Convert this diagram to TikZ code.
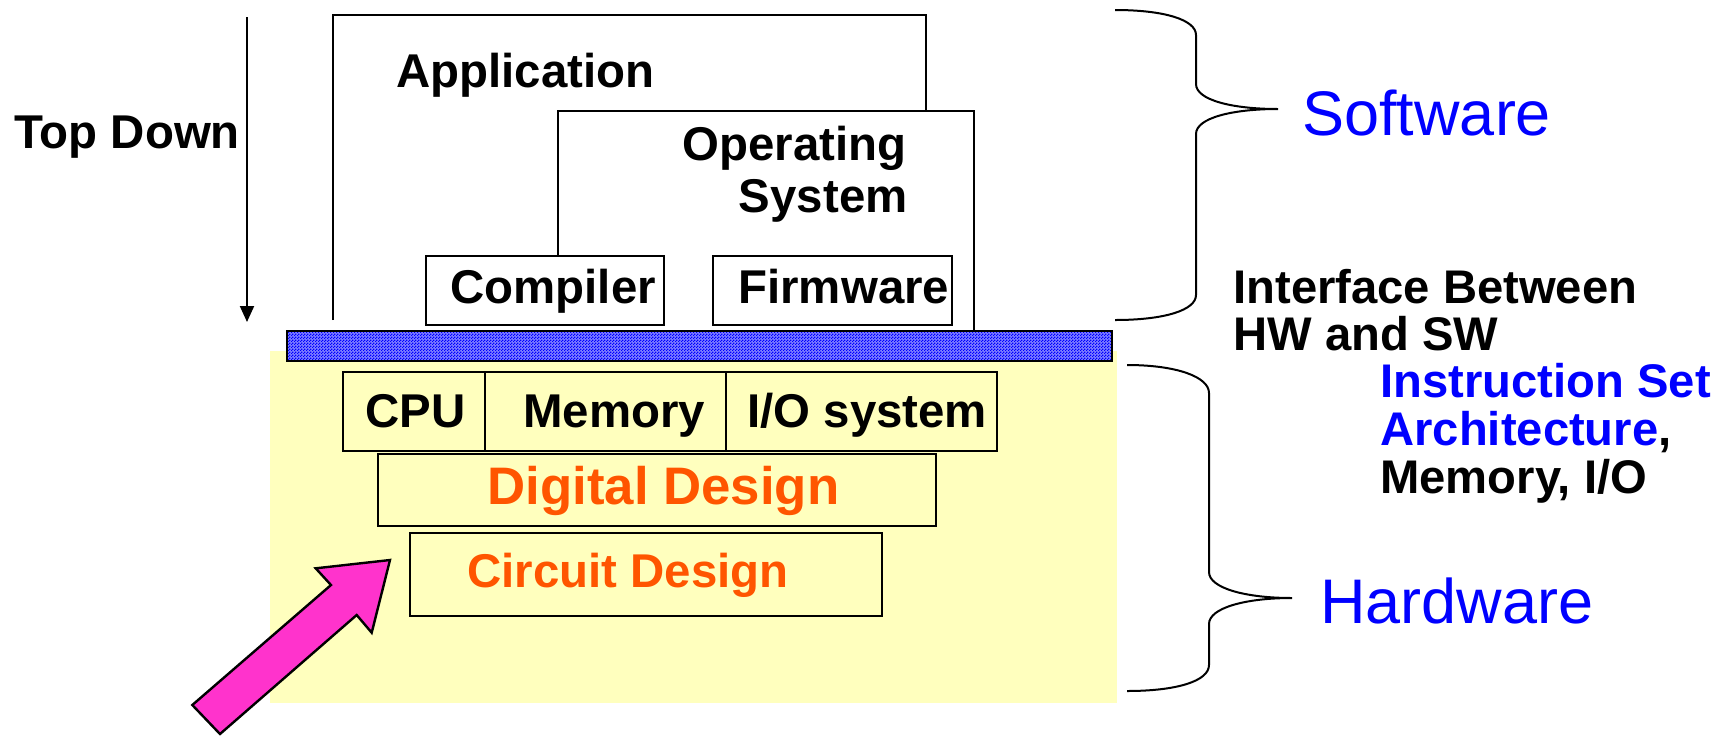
\documentclass[tikz,border=0pt]{standalone}
\usepackage{fontspec}
\setmainfont{Liberation Sans}
\usetikzlibrary{arrows.meta,patterns}
\pgfdeclarepatternformonly{finechecker}{\pgfpointorigin}{\pgfqpoint{1.5pt}{1.5pt}}{\pgfqpoint{1.5pt}{1.5pt}}{%
  \pgfpathrectangle{\pgfpointorigin}{\pgfqpoint{0.75pt}{0.75pt}}%
  \pgfpathrectangle{\pgfqpoint{0.75pt}{0.75pt}}{\pgfqpoint{0.75pt}{0.75pt}}%
  \pgfusepath{fill}}
\definecolor{hwyellow}{HTML}{FFFFBE}
\definecolor{ddorange}{HTML}{FF5500}
\definecolor{arrpink}{HTML}{FF33CC}
\definecolor{swblue}{HTML}{0000FF}
\definecolor{barbase}{HTML}{8080FF}
\tikzset{
  lbl/.style={anchor=base west, inner sep=0pt, font=\bfseries\fontsize{23.7}{28}\selectfont},
  ilbl/.style={anchor=base west, inner sep=0pt, font=\bfseries\fontsize{23.6}{28}\selectfont},
  biglbl/.style={anchor=base west, inner sep=0pt, text=swblue, font=\fontsize{31.5}{36}\selectfont},
  swline/.style={draw=black, line width=1pt},
  hwbox/.style={draw=black, line width=1.4pt},
  bracestyle/.style={draw=black, line width=1pt},
}
\begin{document}
\begin{tikzpicture}[x=0.5pt,y=-0.5pt]
\useasboundingbox (0,0) rectangle (1735,735);
% hardware background
\fill[hwyellow] (270,351) rectangle (1117,703);
% interface bar
\fill[barbase] (287,331) rectangle (1112,361);
\fill[pattern=finechecker, pattern color=swblue] (287,331) rectangle (1112,361);
\draw[line width=1.4pt] (287,331) rectangle (1112,361);
% software boxes
\draw[swline] (333,320) -- (333,15) -- (926,15) -- (926,111);
\draw[swline] (558,256) -- (558,111) -- (974,111) -- (974,331);
\draw[swline, fill=white] (426,256) rectangle (664,325);
\draw[swline, fill=white] (713,256) rectangle (952,325);
% hardware boxes
\draw[hwbox] (343,372) rectangle (485,451);
\draw[hwbox] (485,372) rectangle (726,451);
\draw[hwbox] (726,372) rectangle (997,451);
\draw[hwbox] (378,454) rectangle (936,526);
\draw[hwbox] (410,533) rectangle (882,616);
% top down arrow
\coordinate (tdtop) at (247,17);
\coordinate (tdbot) at (247,322);
\draw[line width=1pt, -{Triangle[length=8pt,width=7pt]}] (tdtop) -- (tdbot);
% texts
\node[lbl] (topdown) at (14,148) {Top Down};
\node[lbl] (app) at (396,87) {Application};
\node[lbl, anchor=base east] (os1) at (907,160) {Operating};
\node[lbl, anchor=base east] (os2) at (908,212) {System};
\node[lbl] (comp) at (450,303) {Compiler};
\node[lbl] (firm) at (738,303) {Firmware};
\node[lbl] (cpu) at (365,427) {CPU};
\node[lbl] (mem) at (523,427) {Memory};
\node[lbl] (io) at (747,427) {I/O system};
\node[anchor=base west, inner sep=0pt, text=ddorange, font=\bfseries\fontsize{26.4}{30}\selectfont] (dd) at (487,504) {Digital Design};
\node[lbl, text=ddorange] (cd) at (467,587) {Circuit Design};
\node[biglbl] (sw) at (1302,135) {Software};
\node[biglbl] (hw) at (1320,623) {Hardware};
\node[ilbl] (if1) at (1233,303) {Interface Between};
\node[ilbl] (if2) at (1233,350) {HW and SW};
\node[ilbl, text=swblue] (if3) at (1380,397) {Instruction Set};
\node[ilbl] (if4) at (1380,445) {\textcolor{swblue}{Architecture},};
\node[ilbl] (if5) at (1380,493) {Memory, I/O};
% braces
\draw[bracestyle] (1115,10) .. controls (1165,10) and (1196,20) .. (1196,35) -- (1196,84)
  .. controls (1196,100) and (1232,109) .. (1278,109)
  .. controls (1232,109) and (1196,118) .. (1196,134) -- (1196,295)
  .. controls (1196,310) and (1165,320) .. (1115,320);
\draw[bracestyle] (1127,365) .. controls (1177,365) and (1209,377) .. (1209,393) -- (1209,572)
  .. controls (1209,588) and (1245,598) .. (1292,598)
  .. controls (1245,598) and (1209,608) .. (1209,624) -- (1209,665)
  .. controls (1209,681) and (1177,691) .. (1127,691);
% pink arrow
\draw[fill=arrpink, line width=1.2pt, line join=miter] (390,560) -- (371.7,632.7) -- (356.7,615) -- (220,734) -- (192.3,705) -- (331,585) -- (315.7,568.3) -- cycle;
\end{tikzpicture}
\end{document}
